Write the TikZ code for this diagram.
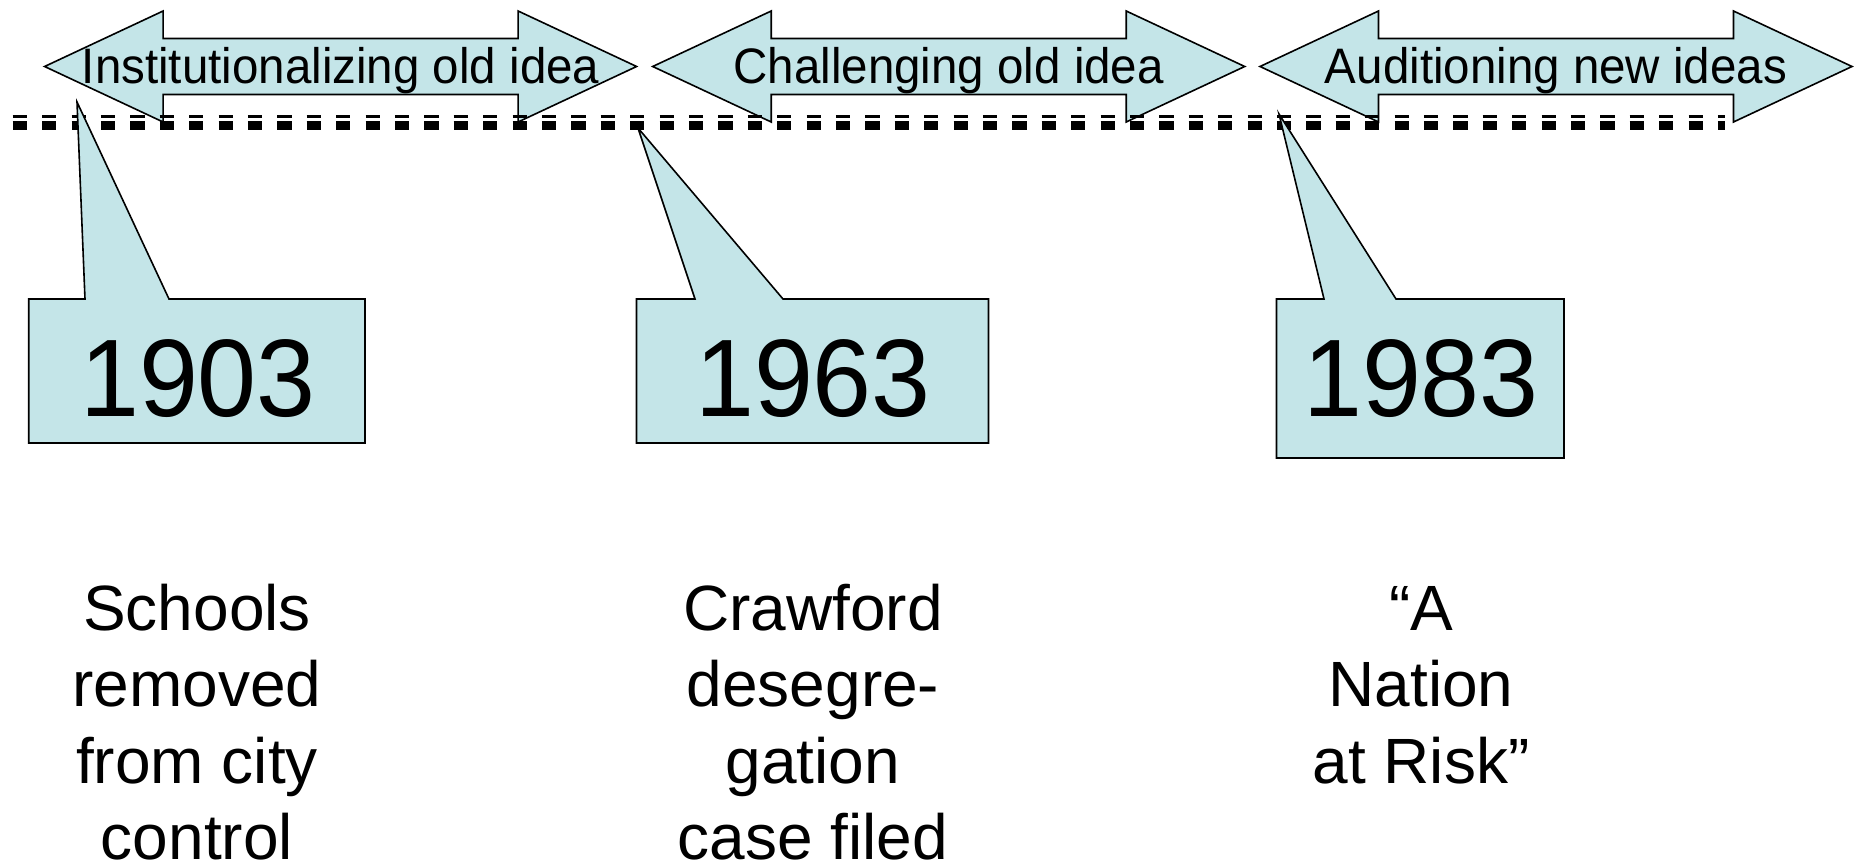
\documentclass[tikz,border=0pt]{standalone}
\usepackage{fontspec}
\setmainfont{Liberation Sans}
\definecolor{paleblue}{RGB}{196,229,232}

% slightly tall lettering
\newcommand\tall[2][1.04]{\scalebox{1}[#1]{#2}}

% double-headed period arrow: #1 left tip x, #2 label node name, #3 label
\newcommand\periodarrow[3]{%
  \draw[shapeline] (#1,66.5) -- ++(118.5,-55.5) -- ++(0,27.5) -- ++(355,0)
    -- ++(0,-27.5) -- ++(118.5,55.5) -- ++(-118.5,55.5) -- ++(0,-27.5)
    -- ++(-355,0) -- ++(0,27.5) -- cycle;
  \node[band] (#2) at (#1+296,84) {\tall[1.05]{#3}};}

\begin{document}
\begin{tikzpicture}[x=1pt,y=-1pt,
  shapeline/.style={fill=paleblue, draw=black, line width=1.6pt, line join=miter},
  band/.style={font=\fontsize{47.5}{57}\selectfont, anchor=base, inner sep=0pt},
  year/.style={font=\fontsize{106}{128}\selectfont, anchor=base, inner sep=0pt},
  % multi-line blocks are anchored at the baseline of their last line
  event/.style={font=\fontsize{64}{76.5}\selectfont, align=center, anchor=base, inner sep=0pt},
  dashrow/.style={dash pattern=on 14.2pt off 15.2pt}]
\useasboundingbox (0,0) rectangle (1862,864);

% period bands
\periodarrow{44.6}{bandA}{Institutionalizing old idea}
\periodarrow{652.7}{bandB}{Challenging old idea}
\periodarrow{1260}{bandC}{Auditioning new ideas}

% timeline: thin and thick dashed rows
\coordinate (lineL1) at (12.7,116.4);
\coordinate (lineR1) at (1725,116.4);
\coordinate (lineL2) at (12.7,125.4);
\coordinate (lineR2) at (1725,125.4);
\draw[dashrow, line width=2.8pt] (lineL1) -- (lineR1);
\draw[dashrow, line width=9.2pt] (lineL2) -- (lineR2);

% callouts pointing at the timeline
\coordinate (tipA) at (77,102);
\coordinate (tipB) at (638,128);
\coordinate (tipC) at (1279,114);
\draw[shapeline] (28.7,299) -- (85,299) -- (tipA) -- (169,299) -- (365,299)
  -- (365,443) -- (28.7,443) -- cycle;
\draw[shapeline] (636.5,299) -- (695,299) -- (tipB) -- (783,299) -- (988.5,299)
  -- (988.5,443) -- (636.5,443) -- cycle;
\draw[shapeline] (1276.5,299) -- (1324,299) -- (tipC) -- (1396,299) -- (1564,299)
  -- (1564,458) -- (1276.5,458) -- cycle;

\node[year] (y1903) at (198,416.5) {\tall{1903}};
\node[year] (y1963) at (813,416.5) {\tall{1963}};
\node[year] (y1983) at (1421,416.5) {\tall{1983}};

% events
\node[event] (evA) at (197,859.5) {Schools\\removed\\from city\\control};
\node[event] (evB) at (813,859.5) {Crawford\\desegre-\\gation\\case filed};
\node[event] (evC) at (1421,783) {“A\\Nation\\at Risk”};
\end{tikzpicture}
\end{document}
